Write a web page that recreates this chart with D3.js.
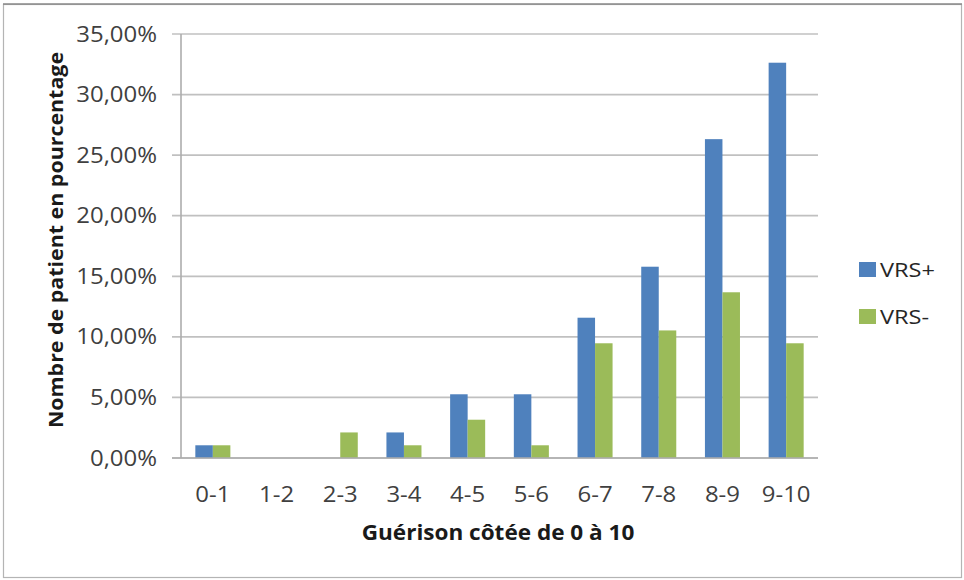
<!DOCTYPE html>
<html><head><meta charset="utf-8">
<script src="https://cdn.jsdelivr.net/npm/d3@7/dist/d3.min.js"></script>
<style>
html,body{margin:0;padding:0;background:#fff;}
svg{display:block;}
text{font-family:"Open Sans","Liberation Sans",sans-serif;}
</style></head>
<body>
<svg id="chart" width="964" height="580"></svg>
<script>
const categories = ["0-1","1-2","2-3","3-4","4-5","5-6","6-7","7-8","8-9","9-10"];
const seriesNames = ["VRS+","VRS-"];
const vrsPlus  = [0.0105, 0, 0, 0.0211, 0.0526, 0.0526, 0.1158, 0.1579, 0.2632, 0.3263];
const vrsMinus = [0.0105, 0, 0.0211, 0.0105, 0.0316, 0.0105, 0.0947, 0.1053, 0.1368, 0.0947];
const yTicks = [0, 0.05, 0.10, 0.15, 0.20, 0.25, 0.30, 0.35];
const colors = ["#4F81BD", "#9BBB59"];
const xTitle = "Guérison côtée de 0 à 10";
const yTitle = "Nombre de patient en pourcentage";

(function(){
const svg = d3.select("#chart");
const mL = 181, mR = 818, mT = 34, mB = 458;

// frame
svg.append("rect").attr("x",3.5).attr("y",4.5).attr("width",958).attr("height",573)
  .attr("fill","#fff").attr("stroke","#b4b4b4").attr("stroke-width",1.2);
svg.append("line").attr("x1",3).attr("x2",962).attr("y1",4).attr("y2",4)
  .attr("stroke","#8a8a8a").attr("stroke-width",1.5);

const locale = d3.formatLocale({decimal:",", thousands:" ", grouping:[3], currency:["","€"]});
const fmt = locale.format(".2%");

const x = d3.scaleBand().domain(categories).range([mL, mR]).paddingInner(0.45).paddingOuter(0.225);
const xs = d3.scaleBand().domain(seriesNames).range([0, x.bandwidth()]);
const y = d3.scaleLinear().domain([0, 0.35]).range([mB, mT]);

// gridlines
svg.append("g").selectAll("line").data(yTicks).join("line")
  .attr("x1", mL - 9).attr("x2", mR)
  .attr("y1", d => y(d)).attr("y2", d => y(d))
  .attr("stroke", "#c0c0c0").attr("stroke-width", 1.7);

// y axis line
svg.append("line").attr("x1", mL).attr("x2", mL).attr("y1", mT).attr("y2", mB)
  .attr("stroke", "#adadad").attr("stroke-width", 1.6);

// y tick labels
svg.append("g").selectAll("text").data(yTicks).join("text")
  .attr("transform", d => `translate(157,${y(d)}) scale(1.14,1)`).attr("dy", "0.36em")
  .attr("text-anchor", "end").attr("font-size", 21).attr("fill", "#404040")
  .text(d => fmt(d));

// bars
const data = categories.map((c, i) => ({c, vals: [vrsPlus[i], vrsMinus[i]]}));
const grp = svg.append("g").selectAll("g").data(data).join("g")
  .attr("transform", d => `translate(${x(d.c)},0)`);
grp.selectAll("rect").data(d => d.vals.map((v, j) => ({s: seriesNames[j], v, j})))
  .join("rect")
  .attr("x", d => xs(d.s)).attr("width", xs.bandwidth())
  .attr("y", d => y(d.v)).attr("height", d => y(0) - y(d.v))
  .attr("fill", d => colors[d.j]);

// x axis baseline
svg.append("line").attr("x1", mL - 9).attr("x2", mR).attr("y1", mB).attr("y2", mB)
  .attr("stroke", "#adadad").attr("stroke-width", 1.6);

// x tick labels
svg.append("g").selectAll("text").data(categories).join("text")
  .attr("transform", d => `translate(${x(d) + x.bandwidth()/2},502) scale(1.14,1)`)
  .attr("text-anchor", "middle").attr("font-size", 21).attr("fill", "#404040")
  .text(d => d);

// axis titles
svg.append("text").attr("transform", "translate(498,540) scale(1.1,1)").attr("text-anchor", "middle")
  .attr("font-size", 20.5).attr("font-weight", "bold").attr("fill", "#1a1a1a").text(xTitle);
svg.append("text").attr("transform", "translate(63,240) rotate(-90) scale(1.07,1)").attr("text-anchor", "middle")
  .attr("font-size", 20).attr("font-weight", "bold").attr("fill", "#1a1a1a").text(yTitle);

// legend
const lg = svg.append("g").selectAll("g").data(seriesNames).join("g")
  .attr("transform", (d, i) => `translate(859,${262 + i * 47})`);
lg.append("rect").attr("width", 17).attr("height", 15).attr("fill", (d, i) => colors[i]);
lg.append("text").attr("transform", "translate(21,15) scale(1.18,1)")
  .attr("font-size", 20).attr("fill", "#262626").text(d => d);
})();
</script>
</body></html>
